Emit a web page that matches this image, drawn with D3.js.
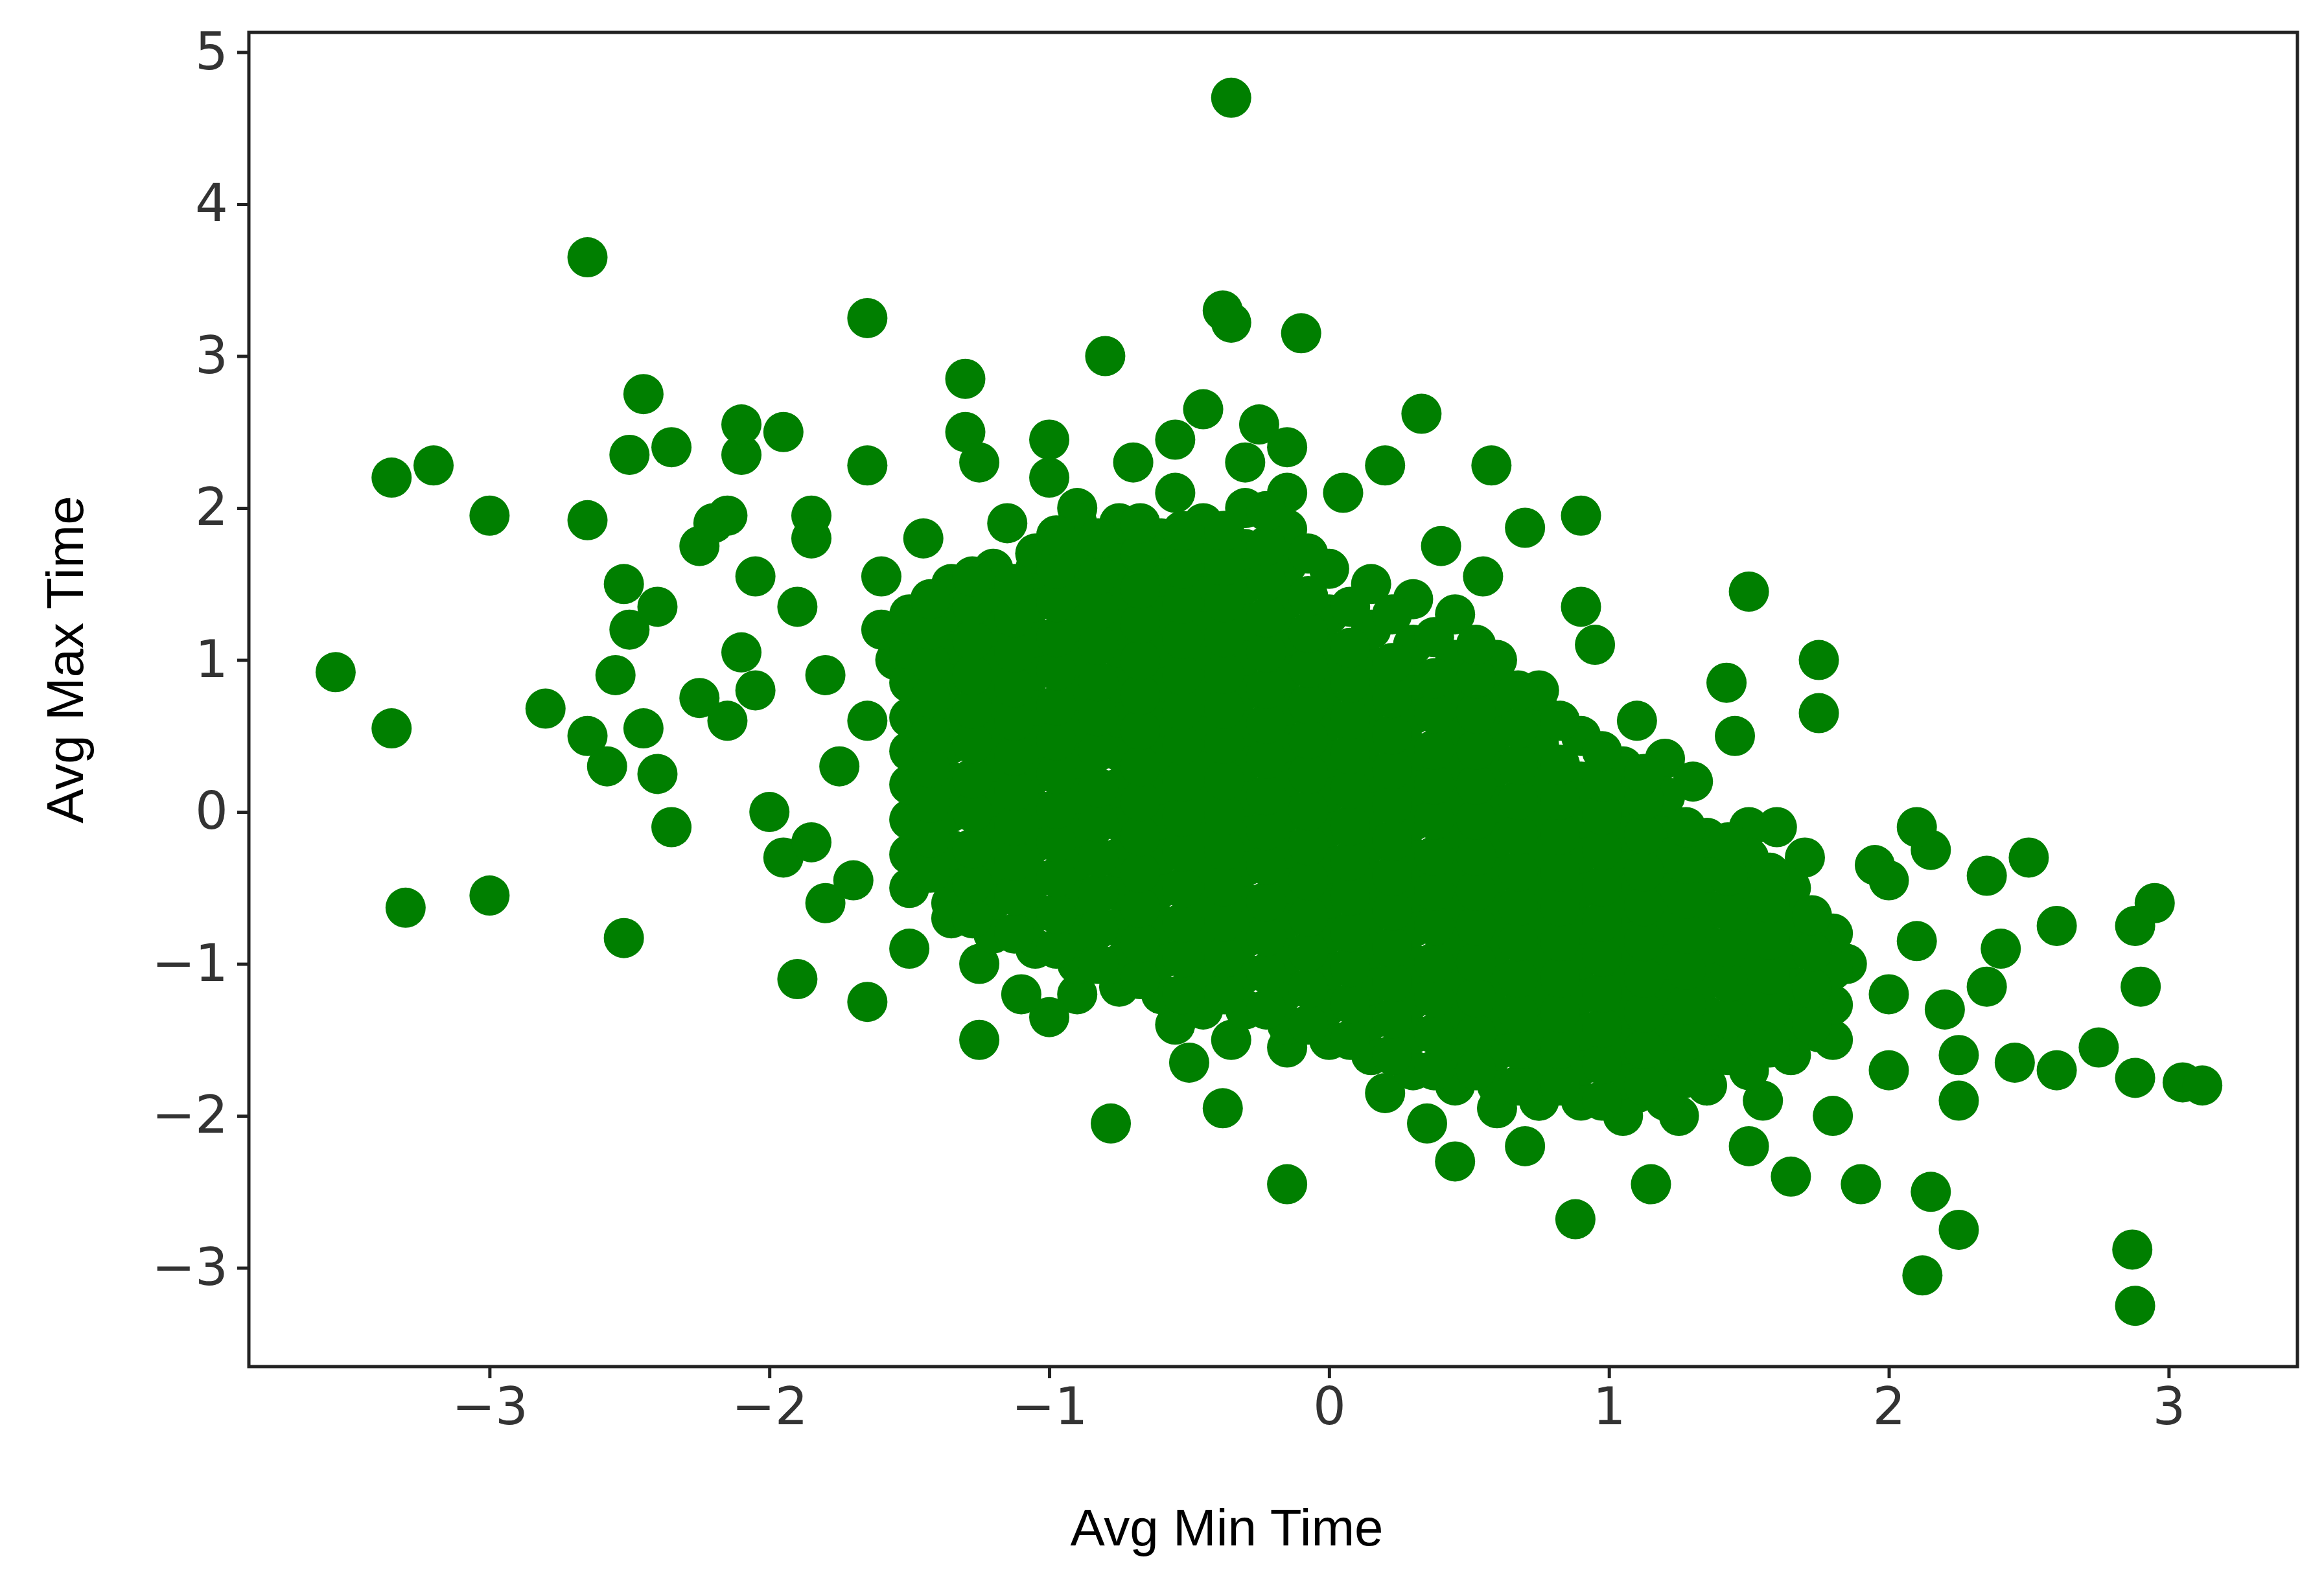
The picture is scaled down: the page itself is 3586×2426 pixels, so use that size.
<!DOCTYPE html>
<html><head><meta charset="utf-8">
<script src="https://cdn.jsdelivr.net/npm/d3@7"></script>
<style>body{margin:0;background:#fff}</style></head>
<body><svg id="c" width="3586" height="2426"></svg>
<script>
const xTicks=[-3,-2,-1,0,1,2,3];
const yTicks=[-3,-2,-1,0,1,2,3,4,5];
const outliers=[[-3.55,0.92],[-3.35,0.55],[-3.35,2.2],[-3.2,2.28],[-3.3,-0.63],[-3.0,1.95],[-3.0,-0.55],[-2.65,3.65],[-2.65,1.92],[-2.8,0.68],[-2.65,0.5],[-2.58,0.3],[-2.55,0.9],[-2.52,1.5],[-2.5,2.35],[-2.45,2.75],[-2.5,1.2],[-2.45,0.55],[-2.4,1.35],[-2.4,0.25],[-2.35,-0.1],[-2.35,2.4],[-2.52,-0.83],[-2.25,1.75],[-2.2,1.9],[-2.15,1.95],[-2.25,0.75],[-2.15,0.6],[-2.1,2.35],[-2.1,2.55],[-1.95,2.5],[-2.05,1.55],[-2.1,1.05],[-2.05,0.8],[-2.0,0.0],[-1.95,-0.3],[-1.9,-1.1],[-1.85,1.95],[-1.85,1.8],[-1.9,1.35],[-1.8,0.9],[-1.8,-0.6],[-1.65,3.25],[-1.65,2.28],[-1.65,-1.25],[-1.6,1.55],[-1.55,1.0],[-1.5,-0.9],[-1.3,2.85],[-1.3,2.5],[-1.25,2.3],[-1.25,-1.5],[-1.0,2.45],[-1.0,2.2],[-0.8,3.0],[-0.78,-2.05],[-0.45,2.65],[-0.55,2.45],[-0.35,4.7],[-0.38,3.3],[-0.35,3.22],[-0.1,3.15],[-0.25,2.55],[0.33,2.62],[0.58,2.28],[0.7,1.87],[0.9,1.95],[1.5,1.45],[1.75,1.0],[1.75,0.65],[1.42,0.85],[1.45,0.5],[-0.38,-1.95],[-0.15,-2.45],[0.7,-2.2],[0.88,-2.68],[0.45,-2.3],[1.15,-2.45],[1.65,-2.4],[2.12,-3.05],[2.25,-2.75],[2.15,-2.5],[1.9,-2.45],[2.87,-2.88],[2.88,-3.25],[2.95,-0.6],[2.88,-0.75],[2.9,-1.15],[2.88,-1.75],[3.05,-1.78],[3.12,-1.8],[2.75,-1.55],[2.6,-1.7],[2.45,-1.65],[2.6,-0.75],[2.5,-0.3],[2.35,-1.15],[2.4,-0.9],[2.35,-0.42],[2.15,-0.25],[2.1,-0.1],[1.95,-0.35],[2.0,-0.45],[2.25,-1.9],[2.25,-1.6],[2.2,-1.3],[2.1,-0.85],[2.0,-1.2],[2.0,-1.7],[1.85,-1.0],[1.8,-2.0],[1.75,-1.45],[1.6,-0.1],[1.65,-0.75],[1.55,-1.9],[1.5,-2.2],[1.35,-1.8],[1.25,-2.0],[1.1,-1.85],[0.95,-1.65],[0.75,-1.9],[0.6,-1.95],[0.35,-2.05],[0.2,-1.85],[-0.15,-1.55],[-0.35,-1.5],[-0.5,-1.65],[-0.55,-1.4],[-0.9,-1.2],[-0.75,-1.15],[-1.0,-1.35],[-1.1,-1.2],[-1.25,-1.0],[-1.35,-0.6],[-1.45,-0.4],[-1.7,-0.45],[-1.85,-0.2],[-1.75,0.3],[-1.65,0.6],[-1.6,1.2],[-1.45,1.8],[-1.4,1.4],[-1.15,1.9],[-0.9,2.0],[-0.7,2.3],[-0.55,2.1],[-0.3,2.3],[-0.15,2.4],[0.05,2.1],[0.2,2.28],[0.4,1.75],[0.55,1.55],[0.9,1.35],[0.95,1.1],[1.1,0.6],[1.2,0.35],[1.3,0.2],[1.5,-0.1],[1.7,-0.3]];
const coreCols=[
[-1.5,[-0.5,-0.28,-0.05,0.18,0.4,0.62,0.85,1.07,1.3]],
[-1.35,[-0.7,-0.46,-0.25,0,0.2,0.45,0.66,0.9,1.1,1.32,1.5]],
[-1.2,[-0.8,-0.58,-0.35,-0.12,0.1,0.33,0.55,0.78,1.0,1.22,1.45,1.6]],
[-1.05,[-0.9,-0.66,-0.44,-0.2,0.02,0.25,0.48,0.7,0.93,1.15,1.38,1.6,1.7]],
[-0.9,[-1.0,-0.78,-0.55,-0.32,-0.1,0.12,0.35,0.58,0.8,1.03,1.25,1.48,1.7,1.9]],
[-0.75,[-1.0,-0.76,-0.52,-0.3,-0.06,0.16,0.4,0.62,0.85,1.08,1.3,1.52,1.75,1.9]],
[-0.6,[-1.2,-0.97,-0.74,-0.5,-0.28,-0.05,0.18,0.4,0.63,0.86,1.08,1.3,1.55,1.8]],
[-0.45,[-1.3,-1.07,-0.84,-0.6,-0.38,-0.15,0.08,0.3,0.53,0.76,1.0,1.22,1.45,1.68,1.9]],
[-0.3,[-1.3,-1.06,-0.83,-0.6,-0.36,-0.13,0.1,0.33,0.56,0.8,1.03,1.26,1.5,1.73,2.0]],
[-0.15,[-1.4,-1.17,-0.94,-0.7,-0.47,-0.24,0,0.23,0.46,0.7,0.93,1.16,1.4,1.63,1.86,2.1]],
[0,[-1.5,-1.27,-1.04,-0.8,-0.57,-0.34,-0.1,0.13,0.36,0.6,0.83,1.06,1.3,1.6]],
[0.15,[-1.6,-1.37,-1.14,-0.9,-0.67,-0.44,-0.2,0.03,0.26,0.5,0.73,0.96,1.2,1.5]],
[0.3,[-1.7,-1.46,-1.23,-1.0,-0.76,-0.53,-0.3,-0.06,0.17,0.4,0.64,0.87,1.1,1.4]],
[0.45,[-1.8,-1.56,-1.33,-1.1,-0.86,-0.63,-0.4,-0.16,0.07,0.3,0.54,0.77,1.0,1.3]],
[0.6,[-1.8,-1.57,-1.34,-1.1,-0.87,-0.64,-0.4,-0.17,0.06,0.3,0.53,0.76,1.0]],
[0.75,[-1.9,-1.66,-1.43,-1.2,-0.96,-0.73,-0.5,-0.26,-0.03,0.2,0.44,0.67,0.8]],
[0.9,[-1.9,-1.67,-1.44,-1.2,-0.97,-0.74,-0.5,-0.27,-0.04,0.2,0.5]],
[1.05,[-2.0,-1.76,-1.53,-1.3,-1.06,-0.83,-0.6,-0.36,-0.13,0.1,0.3]],
[1.2,[-1.9,-1.67,-1.44,-1.2,-0.97,-0.74,-0.5,-0.27,-0.04,0.1]],
[1.35,[-1.8,-1.57,-1.34,-1.1,-0.87,-0.64,-0.4,-0.17]],
[1.5,[-1.7,-1.47,-1.24,-1.0,-0.77,-0.54,-0.3]],
[1.65,[-1.6,-1.37,-1.14,-0.9,-0.67,-0.5]],
[1.8,[-1.5,-1.27,-1.04,-0.8]],
[-1.425,[-0.4,-0.17,0.06,0.29,0.52,0.75,0.98,1.2,1.4]],
[-1.275,[-0.7,-0.47,-0.24,0,0.22,0.45,0.68,0.9,1.13,1.36,1.55]],
[-1.125,[-0.8,-0.55,-0.32,-0.09,0.14,0.37,0.6,0.82,1.05,1.28,1.5]],
[-0.975,[-0.9,-0.67,-0.43,-0.2,0.02,0.25,0.47,0.7,0.93,1.15,1.38,1.6,1.82]],
[-0.825,[-1.0,-0.77,-0.54,-0.3,-0.07,0.16,0.4,0.63,0.86,1.1,1.33,1.56,1.8]],
[-0.675,[-1.1,-0.86,-0.63,-0.4,-0.16,0.07,0.3,0.54,0.77,1.0,1.24,1.47,1.7,1.9]],
[-0.525,[-1.2,-0.96,-0.73,-0.5,-0.26,-0.03,0.2,0.44,0.67,0.9,1.14,1.37,1.6,1.85]],
[-0.375,[-1.2,-0.96,-0.72,-0.49,-0.25,-0.02,0.21,0.45,0.68,0.91,1.15,1.38,1.62,1.85]],
[-0.225,[-1.3,-1.06,-0.82,-0.59,-0.35,-0.12,0.11,0.35,0.58,0.81,1.05,1.28,1.52,1.75,1.98]],
[-0.075,[-1.4,-1.16,-0.92,-0.69,-0.45,-0.22,0.01,0.25,0.48,0.71,0.95,1.18,1.42,1.7]],
[0.075,[-1.5,-1.26,-1.02,-0.79,-0.55,-0.32,-0.09,0.15,0.38,0.61,0.85,1.08,1.35]],
[0.225,[-1.6,-1.36,-1.12,-0.89,-0.65,-0.42,-0.19,0.05,0.28,0.51,0.75,0.98,1.3]],
[0.375,[-1.7,-1.46,-1.22,-0.99,-0.75,-0.52,-0.29,-0.05,0.18,0.41,0.65,0.88,1.15]],
[0.525,[-1.7,-1.46,-1.22,-0.99,-0.75,-0.52,-0.29,-0.05,0.18,0.41,0.65,0.88,1.1]],
[0.675,[-1.8,-1.56,-1.32,-1.09,-0.85,-0.62,-0.39,-0.15,0.08,0.31,0.55,0.8]],
[0.825,[-1.8,-1.56,-1.32,-1.09,-0.85,-0.62,-0.39,-0.15,0.08,0.31,0.6]],
[0.975,[-1.9,-1.66,-1.42,-1.19,-0.95,-0.72,-0.49,-0.25,-0.02,0.2,0.4]],
[1.125,[-1.8,-1.56,-1.32,-1.09,-0.85,-0.62,-0.39,-0.15,0.08,0.25]],
[1.275,[-1.75,-1.51,-1.27,-1.04,-0.8,-0.57,-0.34,-0.1]],
[1.425,[-1.6,-1.36,-1.12,-0.89,-0.65,-0.42,-0.2]],
[1.575,[-1.55,-1.31,-1.07,-0.84,-0.6,-0.4]],
[1.725,[-1.4,-1.16,-0.92,-0.68]]
];
const pts=outliers.concat(coreCols.flatMap(([x,ys])=>ys.map(y=>[x,y])));
const L=384,R=3545,T=50,B=2109;
const x=d3.scaleLinear().domain([-3.86,3.46]).range([L,R]);
const y=d3.scaleLinear().domain([-3.65,5.13]).range([B,T]);
const svg=d3.select("#c");
svg.append("g").selectAll("circle").data(pts).join("circle")
 .attr("cx",d=>x(d[0])).attr("cy",d=>y(d[1])).attr("r",31).attr("fill","#007f00");
svg.append("rect").attr("x",L).attr("y",T).attr("width",R-L).attr("height",B-T)
 .attr("fill","none").attr("stroke","#222").attr("stroke-width",5);
const fmt=d3.format("d");
const gx=svg.append("g").attr("transform",`translate(0,${B})`)
 .call(d3.axisBottom(x).tickValues(xTicks).tickFormat(fmt).tickSize(18).tickPadding(14));
const gy=svg.append("g").attr("transform",`translate(${L},0)`)
 .call(d3.axisLeft(y).tickValues(yTicks).tickFormat(fmt).tickSize(18).tickPadding(14));
[gx,gy].forEach(g=>{g.select(".domain").remove();
 g.selectAll("line").attr("stroke","#222").attr("stroke-width",5);
 g.selectAll("text").attr("font-family","DejaVu Sans").attr("font-size",80).attr("fill","#333");});
svg.append("text").attr("x",1893).attr("y",2385).attr("text-anchor","middle")
 .attr("font-family","Liberation Sans").attr("font-size",80).text("Avg Min Time");
svg.append("text").attr("transform","translate(128,1018) rotate(-90)").attr("text-anchor","middle")
 .attr("font-family","Liberation Sans").attr("font-size",80).text("Avg Max Time");
</script></body></html>
